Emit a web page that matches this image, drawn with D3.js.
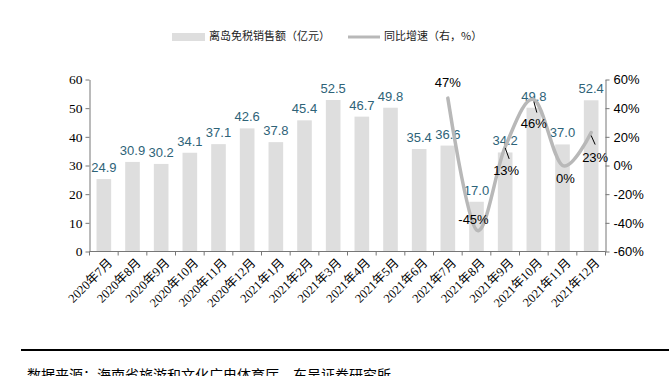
<!DOCTYPE html>
<html>
<head>
<meta charset="utf-8">
<script src="https://cdn.jsdelivr.net/npm/d3@7"></script>
<style>
  html, body { margin: 0; padding: 0; background: #fff; }
  svg { display: block; }
</style>
</head>
<body>
<div id="chart"></div>
<script>
// --- data ---
const months = ["2020年7月","2020年8月","2020年9月","2020年10月","2020年11月","2020年12月",
  "2021年1月","2021年2月","2021年3月","2021年4月","2021年5月","2021年6月",
  "2021年7月","2021年8月","2021年9月","2021年10月","2021年11月","2021年12月"];
const sales = [24.9, 30.9, 30.2, 34.1, 37.1, 42.6, 37.8, 45.4, 52.5, 46.7, 49.8, 35.4,
  36.6, 17.0, 34.2, 49.8, 37.0, 52.4];
const growthMonths = ["2021年7月","2021年8月","2021年9月","2021年10月","2021年11月","2021年12月"];
const growth = [47, -45, 13, 46, 0, 23];
const leftTicks = [0, 10, 20, 30, 40, 50, 60];
const rightTicks = [-60, -40, -20, 0, 20, 40, 60];

const W = 669, H = 376;
const plot = {left: 89.5, right: 605.5, top: 79.5, bottom: 251.5};
const serif = "'Liberation Serif', 'Times New Roman', 'Noto Sans CJK SC', serif";
const sans = "'Liberation Sans', Arial, sans-serif";
const cjk = "'Noto Sans CJK SC', sans-serif";

const svg = d3.select("#chart").append("svg").attr("width", W).attr("height", H);

const x = d3.scaleBand().domain(months).range([plot.left, plot.right]).paddingInner(0.49).paddingOuter(0.245);
const yL = d3.scaleLinear().domain([0, 60]).range([plot.bottom, plot.top]);
const yR = d3.scaleLinear().domain([-60, 60]).range([plot.bottom, plot.top]);
const cx = m => x(m) + x.bandwidth() / 2;

// bars
svg.append("g").selectAll("rect").data(sales).join("rect")
  .attr("x", (d, i) => x(months[i]))
  .attr("y", d => yL(d) - 1)
  .attr("width", x.bandwidth())
  .attr("height", d => plot.bottom - yL(d) + 1)
  .attr("fill", "#dedede");

// bar labels
svg.append("g").selectAll("text").data(sales).join("text")
  .attr("x", (d, i) => cx(months[i]))
  .attr("y", d => yL(d) - 8)
  .attr("text-anchor", "middle")
  .style("font-family", sans)
  .attr("font-size", 13)
  .attr("fill", "#2e6378")
  .text(d => d.toFixed(1));

// axes
const axisColor = "#777";
const gL = svg.append("g").attr("transform", `translate(${plot.left},0)`)
  .call(d3.axisLeft(yL).tickValues(leftTicks).tickSize(4).tickSizeOuter(0));
gL.selectAll("text").style("font-family", serif).attr("font-size", 13.5).attr("fill", "#000").attr("x", -7);

const gR = svg.append("g").attr("transform", `translate(${plot.right},0)`)
  .call(d3.axisRight(yR).tickValues(rightTicks).tickSize(4).tickSizeOuter(0).tickFormat(d => d + "%"));
gR.selectAll("text").style("font-family", sans).attr("font-size", 13).attr("fill", "#000").attr("x", 8);

const gB = svg.append("g").attr("transform", `translate(0,${plot.bottom})`);
gB.append("line").attr("x1", plot.left).attr("x2", plot.right).attr("stroke", axisColor);
gB.selectAll("line.tk").data(d3.range(months.length + 1)).join("line").attr("class", "tk")
  .attr("x1", i => plot.left + i * x.step()).attr("x2", i => plot.left + i * x.step())
  .attr("y1", 0).attr("y2", 4).attr("stroke", axisColor);
gB.selectAll("text").data(months).join("text")
  .attr("transform", m => `translate(${cx(m) + 3},${6}) rotate(-45)`)
  .attr("text-anchor", "end")
  .attr("dy", "0.7em")
  .style("font-family", serif)
  .attr("font-size", 12.5)
  .attr("fill", "#000")
  .text(m => m);

[gL, gR].forEach(g => g.selectAll("path, line").attr("stroke", axisColor));

// growth line
const line = d3.line().x((d, i) => cx(growthMonths[i])).y(d => yR(d)).curve(d3.curveCardinal.tension(0));
svg.append("path").datum(growth)
  .attr("d", line).attr("fill", "none")
  .attr("stroke", "#b8b8b8").attr("stroke-width", 3.5).attr("stroke-linecap", "round");

// growth labels: [dx, dy] from point, plus optional leader line
const gLabelOff = [[0, -15], [-3, -9], [1, 25], [0, 25], [3, 14], [4, 26]];
const leaders = [null, null, [[0, 1], [4, 12]], [[0, 2], [3, 13]], null, [[0, 3], [4, 12]]];
const gLab = svg.append("g");
growth.forEach((g, i) => {
  const px = cx(growthMonths[i]), py = yR(g);
  if (leaders[i]) {
    gLab.append("line")
      .attr("x1", px + leaders[i][0][0]).attr("y1", py + leaders[i][0][1])
      .attr("x2", px + leaders[i][1][0]).attr("y2", py + leaders[i][1][1])
      .attr("stroke", "#000").attr("stroke-width", 1);
  }
  gLab.append("text")
    .attr("x", px + gLabelOff[i][0]).attr("y", py + gLabelOff[i][1])
    .attr("text-anchor", "middle").attr("dominant-baseline", "middle")
    .style("font-family", sans).attr("font-size", 13)
    .attr("fill", "#000").text(g + "%");
});

// legend
const leg = svg.append("g").style("font-family", cjk).attr("font-size", 11).attr("fill", "#222");
leg.append("rect").attr("x", 172).attr("y", 33).attr("width", 33).attr("height", 8).attr("fill", "#dedede");
leg.append("text").attr("x", 209).attr("y", 37).attr("dominant-baseline", "middle").text("离岛免税销售额（亿元）");
leg.append("line").attr("x1", 348).attr("x2", 380).attr("y1", 37).attr("y2", 37).attr("stroke", "#b8b8b8").attr("stroke-width", 3);
leg.append("text").attr("x", 384).attr("y", 37).attr("dominant-baseline", "middle").text("同比增速（右，%）");

// footer
svg.append("line").attr("x1", 21).attr("x2", W).attr("y1", 350).attr("y2", 350).attr("stroke", "#000").attr("stroke-width", 2);
svg.append("text").attr("x", 27).attr("y", 380)
  .style("font-family", cjk).attr("font-size", 14).attr("fill", "#000")
  .text("数据来源：海南省旅游和文化广电体育厅，东吴证券研究所");
</script>
</body>
</html>
